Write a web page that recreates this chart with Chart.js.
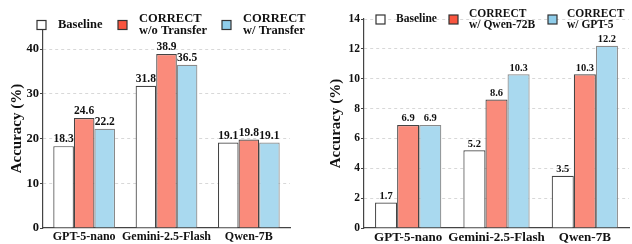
<!DOCTYPE html>
<html lang="en">
<head>
    <meta charset="UTF-8">
    <title>CORRECT accuracy</title>
    <script src="https://cdn.jsdelivr.net/npm/chart.js"></script>
    <style>
        body {
            margin: 0;
            padding: 0;
            background-color: white;
        }

        .wrap {
            position: relative;
            width: 632px;
            height: 244px;
        }

        .panel {
            position: absolute;
            top: 0;
            width: 316px;
            height: 244px;
        }
    </style>
</head>
<body>
    <div class="wrap">
        <div class="panel" style="left: 0;"><canvas id="leftChart"></canvas></div>
        <div class="panel" style="left: 316px;"><canvas id="rightChart"></canvas></div>
    </div>

    <script>
        const models = ['GPT-5-nano', 'Gemini-2.5-Flash', 'Qwen-7B'];

        // left panel
        const leftBaseline = [18.3, 31.8, 19.1];
        const leftNoTransfer = [24.6, 38.9, 19.8];
        const leftTransfer = [22.2, 36.5, 19.1];
        const leftLegend = [['Baseline'], ['CORRECT', 'w/o Transfer'], ['CORRECT', 'w/ Transfer']];

        // right panel
        const rightBaseline = [1.7, 5.2, 3.5];
        const rightQwen = [6.9, 8.6, 10.3];
        const rightGpt = [6.9, 10.3, 12.2];
        const rightLegend = [['Baseline'], ['CORRECT', 'w/ Qwen-72B'], ['CORRECT', 'w/ GPT-5']];

        const serif = "'Liberation Serif', 'Times New Roman', serif";
        const barFill = ['#ffffff', '#fa8b7b', '#a9d9ef'];
        const barBorder = ['#444444', '#444444', '#8a8a8a'];
        const legendFill = ['#ffffff', '#f9553f', '#8fcdea'];

        // value labels above each bar
        const valueLabels = {
            id: 'valueLabels',
            afterDatasetsDraw(chart, args, opts) {
                const ctx = chart.ctx;
                ctx.save();
                ctx.font = `bold ${opts.size}px ${serif}`;
                ctx.fillStyle = '#111';
                ctx.textAlign = 'center';
                ctx.textBaseline = 'bottom';
                chart.data.datasets.forEach((ds, i) => {
                    chart.getDatasetMeta(i).data.forEach((bar, j) => {
                        ctx.fillText(ds.data[j].toFixed(1), bar.x, bar.y - 1);
                    });
                });
                ctx.restore();
            }
        };

        // legend drawn by hand so the two-line labels sit like the original
        const boxLegend = {
            id: 'boxLegend',
            afterDraw(chart, args, opts) {
                const ctx = chart.ctx;
                ctx.save();
                ctx.font = `bold ${opts.size}px ${serif}`;
                ctx.textBaseline = 'middle';
                ctx.textAlign = 'left';
                opts.labels.forEach((lines, i) => {
                    ctx.fillStyle = legendFill[i];
                    ctx.strokeStyle = '#333';
                    ctx.lineWidth = 1.2;
                    ctx.fillRect(opts.boxX[i], opts.y - 4.5, 9, 9);
                    ctx.strokeRect(opts.boxX[i], opts.y - 4.5, 9, 9);
                    ctx.fillStyle = '#111';
                    if (lines.length === 1) {
                        ctx.fillText(lines[0], opts.textX[i], opts.y);
                    } else {
                        ctx.fillText(lines[0], opts.textX[i], opts.y - opts.gap / 2);
                        ctx.fillText(lines[1], opts.textX[i], opts.y + opts.gap / 2);
                    }
                });
                ctx.restore();
            }
        };

        function makeChart(id, series, legend, s) {
            return new Chart(document.getElementById(id), {
                type: 'bar',
                data: {
                    labels: models,
                    datasets: series.map((d, i) => ({
                        label: legend[i].join(' '),
                        data: d,
                        backgroundColor: barFill[i],
                        borderColor: barBorder[i],
                        borderWidth: 1.2,
                        categoryPercentage: 0.75,
                        barPercentage: 1.0
                    }))
                },
                plugins: [valueLabels, boxLegend],
                options: {
                    responsive: true,
                    maintainAspectRatio: false,
                    animation: false,
                    layout: { padding: { top: s.top, right: s.right, left: 0, bottom: 0 } },
                    plugins: {
                        legend: { display: false },
                        tooltip: { enabled: false },
                        valueLabels: { size: s.valueSize },
                        boxLegend: {
                            labels: legend,
                            size: s.legendSize,
                            boxX: s.boxX,
                            textX: s.textX,
                            y: s.legendY,
                            gap: s.legendGap
                        }
                    },
                    scales: {
                        x: {
                            grid: { display: false, drawTicks: false },
                            border: { display: true, color: '#444', width: 1.2 },
                            ticks: {
                                padding: 2,
                                maxRotation: 0,
                                minRotation: 0,
                                autoSkip: false,
                                color: '#111',
                                font: { family: serif, weight: 'bold', size: s.xSize }
                            },
                            afterFit: scale => { scale.height = 16; }
                        },
                        y: {
                            min: 0,
                            max: s.max,
                            ticks: {
                                stepSize: s.step,
                                padding: 1,
                                color: '#111',
                                font: { family: serif, weight: 'bold', size: s.ySize }
                            },
                            afterBuildTicks: scale => {
                                scale.ticks = scale.ticks.filter(t => t.value % s.step === 0);
                            },
                            grid: {
                                color: ctx => ctx.tick && ctx.tick.value === 0 ? 'rgba(0,0,0,0)' : '#d8d8d8',
                                lineWidth: 1,
                                tickColor: '#444',
                                tickLength: 3,
                                tickWidth: 1.2
                            },
                            border: { display: true, color: '#444', width: 1.2, dash: [3, 3] },
                            title: {
                                display: true,
                                text: 'Accuracy (%)',
                                color: '#111',
                                padding: { top: s.titlePad, bottom: 0 },
                                font: { family: serif, weight: 'bold', size: 15 }
                            },
                            afterFit: scale => { scale.width = s.yWidth; }
                        }
                    }
                }
            });
        }

        makeChart('leftChart', [leftBaseline, leftNoTransfer, leftTransfer], leftLegend, {
            top: 29, right: 26, yWidth: 43, max: 44.5, step: 10, titlePad: 8,
            xSize: 12, ySize: 12.5, valueSize: 11.5,
            legendSize: 12.5, boxX: [37, 118, 222], textX: [58, 139, 243], legendY: 25, legendGap: 12
        });

        makeChart('rightChart', [rightBaseline, rightQwen, rightGpt], rightLegend, {
            top: 19, right: 3, yWidth: 48, max: 14, step: 2, titlePad: 11,
            xSize: 13, ySize: 11.5, valueSize: 10.5,
            legendSize: 11.5, boxX: [60, 133, 232], textX: [80, 153, 251], legendY: 19.5, legendGap: 11
        });
    </script>
</body>
</html>
